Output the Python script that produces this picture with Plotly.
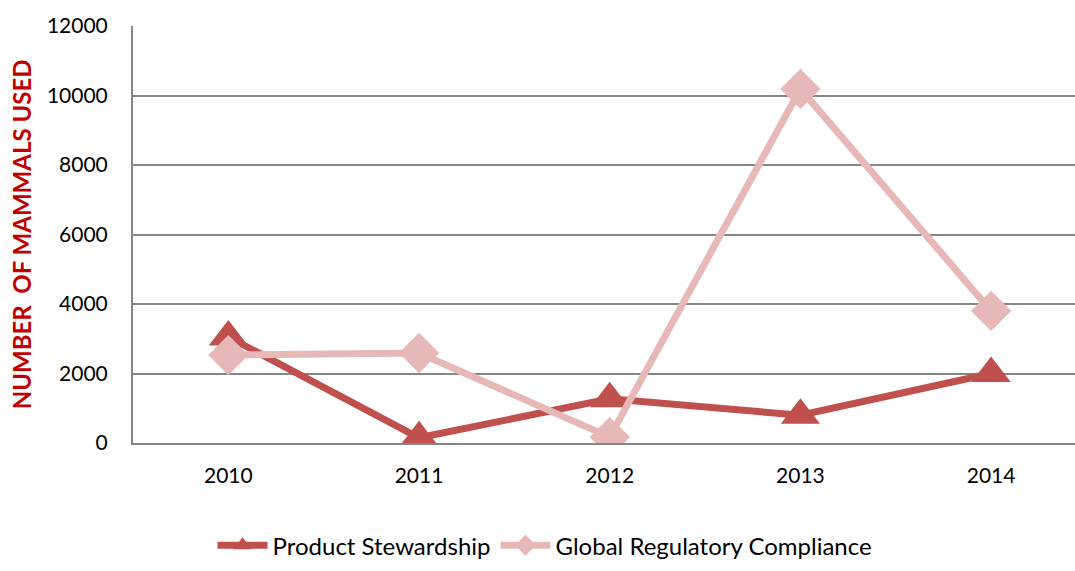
import plotly.graph_objects as go

years = ["2010", "2011", "2012", "2013", "2014"]
product_stewardship = [3050, 150, 1270, 800, 2000]
global_regulatory = [2530, 2590, 170, 10190, 3800]
y_ticks = [0, 2000, 4000, 6000, 8000, 10000, 12000]
y_tick_labels = ["0", "2000", "4000", "6000", "8000", "10000", "12000"]

FONT = "Lato, 'Noto Sans', sans-serif"

fig = go.Figure()
fig.add_trace(go.Scatter(
    x=years, y=product_stewardship, name="Product Stewardship",
    mode="lines+markers",
    line=dict(color="#C0504D", width=7),
    marker=dict(symbol="triangle-up", size=34, color="#C0504D"),
))
fig.add_trace(go.Scatter(
    x=years, y=global_regulatory, name="Global Regulatory Compliance",
    mode="lines+markers",
    line=dict(color="#E6B9B8", width=7),
    marker=dict(symbol="diamond", size=31, color="#E6B9B8"),
))

fig.update_layout(
    width=1075, height=571,
    margin=dict(l=133, r=0, t=26, b=128),
    paper_bgcolor="white", plot_bgcolor="white",
    font=dict(family=FONT, color="black"),
    showlegend=True,
    legend=dict(
        orientation="h", xref="container", yref="container",
        x=0.507, y=0.005, xanchor="center", yanchor="bottom",
        font=dict(size=24, color="black"),
        itemwidth=50, tracegroupgap=0,
    ),
    xaxis=dict(
        type="category", range=[-0.5, 4.44],
        showgrid=False, showline=True, linecolor="#868686", linewidth=2,
        ticks="", tickfont=dict(size=21), ticklabelstandoff=13,
        zeroline=False,
    ),
    yaxis=dict(
        range=[0, 12000], tickvals=y_ticks, ticktext=y_tick_labels,
        showgrid=True, gridcolor="#868686", gridwidth=2,
        showline=True, linecolor="#868686", linewidth=2,
        ticks="", tickfont=dict(size=21), ticklabelstandoff=19,
        zeroline=False,
    ),
    annotations=[dict(
        text="<b>NUMBER  OF MAMMALS USED</b>",
        xref="paper", yref="paper", x=-0.118, y=0.5,
        xanchor="center", yanchor="middle", textangle=-90,
        showarrow=False, font=dict(size=24, color="#C00000"),
    )],
)

fig.write_html("out.html")
